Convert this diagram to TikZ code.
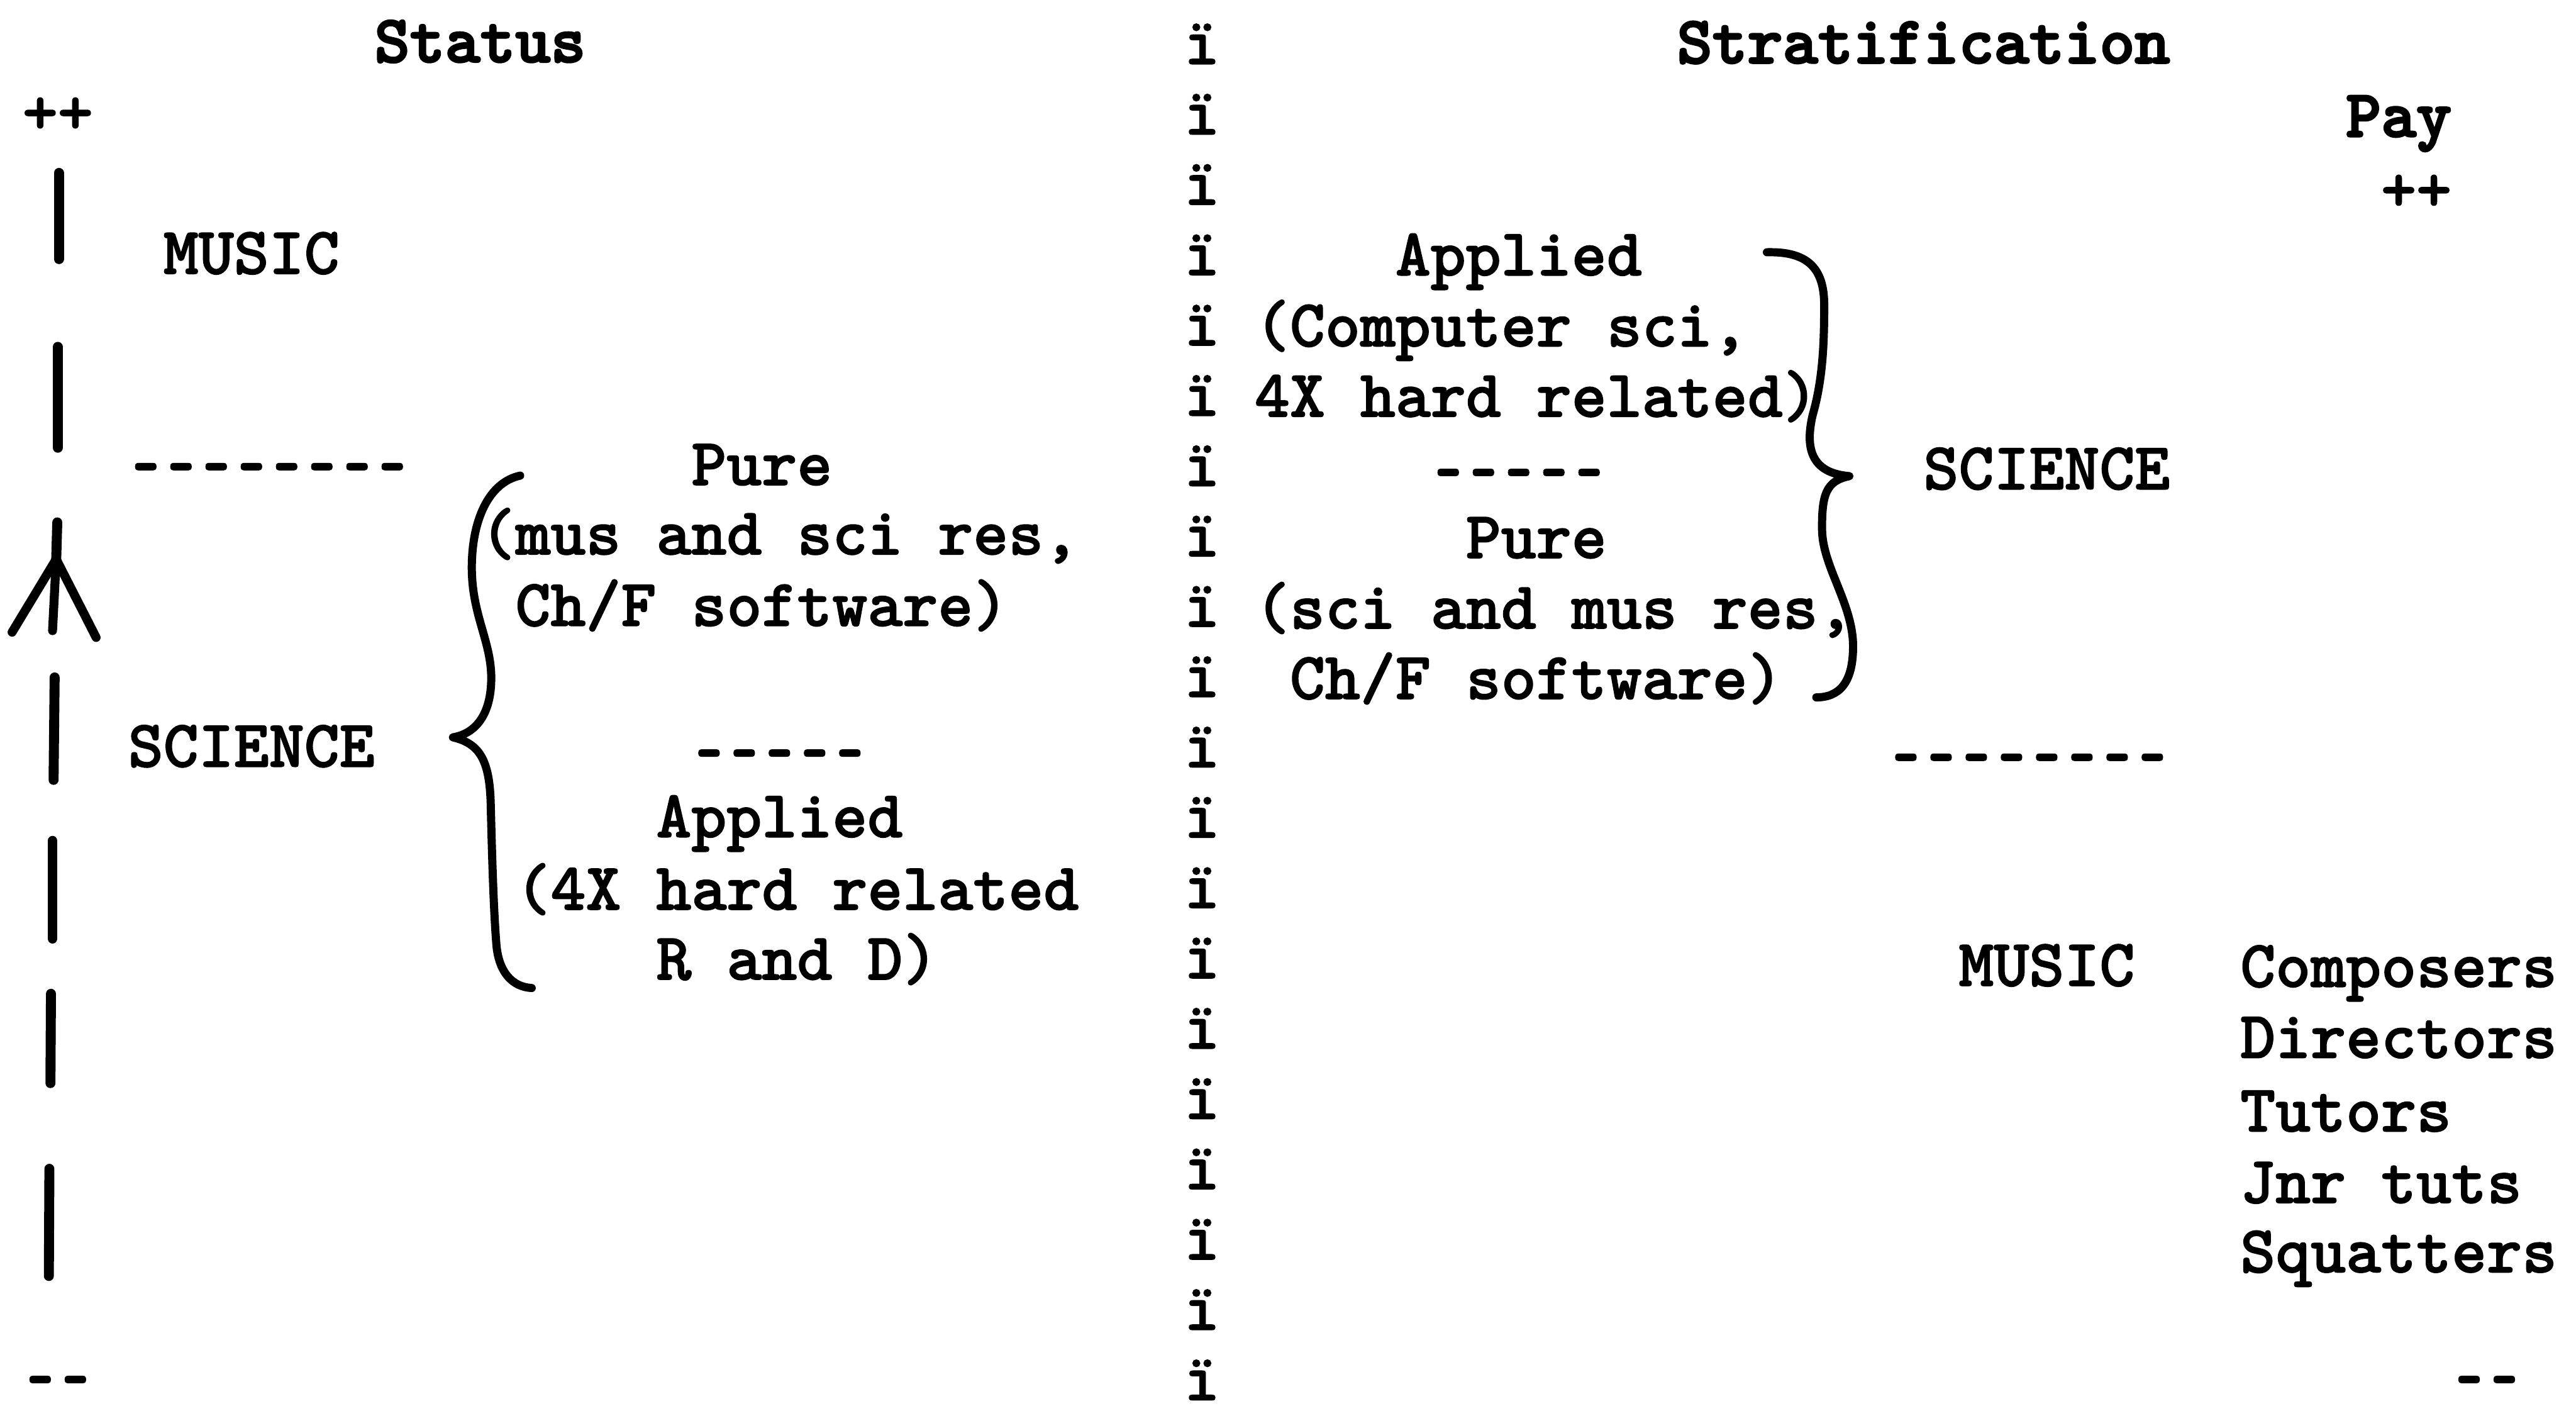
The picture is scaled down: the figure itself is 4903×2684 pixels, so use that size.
\documentclass[tikz,border=0pt]{standalone}
\usepackage{fontspec}
\usepackage{graphicx}
\newfontfamily\twfont{lmmonolt10-bold.otf}[Ligatures=TeXOff,FakeBold=1.4]
\newfontfamily\hdfont{lmmonolt10-bold.otf}[Ligatures=TeXOff,FakeBold=2.8]
\newcommand{\twsize}{\fontsize{36.3pt}{38pt}\selectfont}
\newcommand{\hy}{\makebox[0.525em][c]{\hdfont\scalebox{0.72}[1]{-}}}
\begin{document}
\begin{tikzpicture}[x=0.01cm,y=-0.01cm,
  tw/.style={anchor=base west,inner sep=0pt,outer sep=0pt,font={\twfont\twsize}},
  hd/.style={anchor=base west,inner sep=0pt,outer sep=0pt,font={\hdfont\twsize}},
  axisbar/.style={line width=0.19cm,line cap=round},
  barb/.style={line width=0.17cm,line cap=round,line join=round},
  bracestroke/.style={line width=0.155cm,line cap=round,line join=round}]
\fill[white] (0,0) rectangle (4903,2684);
\useasboundingbox (0,0) rectangle (4903,2684);
% central column of i-diaeresis
\foreach \k in {0,...,19}
  \node[tw] (i\k) at (2254,{122+133.8*\k}) {ï};
% ---------------- left side ----------------
\node[hd] (status) at ({2254+67*(-23)},118) {Status};
\node[tw] (lpp) at ({2254+67*(-33)},254) {++};
\node[tw] (lmusic) at ({2254+67*(-29)},521) {MUSIC};
\node[tw] (ldash1) at ({2254+67*(-30)},927) {\hy\hy\hy\hy\hy\hy\hy\hy};
\node[tw] (lpure) at ({2254+67*(-14)},923) {Pure};
\node[tw] (lpure1) at ({2254+67*(-20)},1055) {(mus and sci res,};
\node[tw] (lpure2) at ({2254+67*(-19)},1191) {Ch/F software)};
\node[tw] (lscience) at ({2254+67*(-30)},1459) {SCIENCE};
\node[tw] (ldash2) at ({2254+67*(-14)},1472) {\hy\hy\hy\hy\hy};
\node[tw] (lapp) at ({2254+67*(-15)},1593) {Applied};
\node[tw] (lapp1) at ({2254+67*(-19)},1731) {(4X hard related};
\node[tw] (lapp2) at ({2254+67*(-15)},1864) {R and D)};
\node[tw] (lmm) at ({2254+67*(-33)},2664) {\hy\hy};
% status axis
\coordinate (s1a) at (112,329); \coordinate (s1b) at (112,493);
\coordinate (s2a) at (110,660); \coordinate (s2b) at (110,852);
\coordinate (s3a) at (109,994); \coordinate (jn) at (107,1064);
\coordinate (stem) at (100,1200); \coordinate (bl) at (23,1203); \coordinate (br) at (183,1213);
\coordinate (s4a) at (104,1289); \coordinate (s4b) at (102,1484);
\coordinate (s5a) at (100,1600); \coordinate (s5b) at (100,1786);
\coordinate (s6a) at (97,1891); \coordinate (s6b) at (96,2061);
\coordinate (s7a) at (94,2224); \coordinate (s7b) at (93,2428);
\draw[axisbar] (s1a) -- (s1b);
\draw[axisbar] (s2a) -- (s2b);
\draw[axisbar] (s3a) -- (jn);
\draw[barb] (jn) -- (stem);
\draw[barb] (jn) -- (bl);
\draw[barb] (jn) -- (br);
\draw[axisbar] (s4a) -- (s4b);
\draw[axisbar] (s5a) -- (s5b);
\draw[axisbar] (s6a) -- (s6b);
\draw[axisbar] (s7a) -- (s7b);
% left brace
\coordinate (lbt) at (990,905); \coordinate (lbm) at (862,1403); \coordinate (lbb) at (1012,1880);
\draw[bracestroke] (lbt) .. controls (930,918) and (898,990) .. (898,1080)
  .. controls (898,1170) and (935,1220) .. (935,1290)
  .. controls (935,1360) and (905,1396) .. (lbm)
  .. controls (915,1415) and (932,1450) .. (934,1530)
  .. controls (937,1650) and (940,1740) .. (945,1800)
  .. controls (950,1850) and (975,1878) .. (lbb);
% ---------------- right side ----------------
\node[hd] (strat) at ({2254+67*14},120) {Stratification};
\node[hd] (pay) at ({2254+67*33},260) {Pay};
\node[tw] (rpp) at ({2254+67*34},401) {++};
\node[tw] (rapp) at ({2254+67*6},524) {Applied};
\node[tw] (rapp1) at ({2254+67*2},659) {(Computer sci,};
\node[tw] (rapp2) at ({2254+67*2},793) {4X hard related)};
\node[tw] (rdash1) at ({2254+67*7},938) {\hy\hy\hy\hy\hy};
\node[tw] (rpure) at ({2254+67*8},1062) {Pure};
\node[tw] (rpure1) at ({2254+67*2},1196) {(sci and mus res,};
\node[tw] (rpure2) at ({2254+67*3},1330) {Ch/F software)};
\node[tw] (rscience) at ({2254+67*21},931) {SCIENCE};
\node[tw] (rdash2) at ({2254+67*20},1480) {\hy\hy\hy\hy\hy\hy\hy\hy};
\node[tw] (rmusic) at ({2254+67*22},1876) {MUSIC};
\node[tw] (comp) at ({2254+67*30},1878) {Composers};
\node[tw] (dir) at ({2254+67*30},2013) {Directors};
\node[tw] (tut) at ({2254+67*30},2153) {Tutors};
\node[tw] (jnr) at ({2254+67*30},2289) {Jnr tuts};
\node[tw] (squ) at ({2254+67*30},2421) {Squatters};
\node[tw] (rmm) at ({2254+67*36},2664) {\hy\hy};
% right brace
\coordinate (rbt) at (3363,480); \coordinate (rbm) at (3520,906); \coordinate (rbb) at (3457,1327);
\draw[bracestroke] (rbt) .. controls (3440,478) and (3472,510) .. (3472,580)
  .. controls (3472,650) and (3470,720) .. (3450,790)
  .. controls (3436,850) and (3445,900) .. (rbm)
  .. controls (3476,915) and (3467,940) .. (3468,1010)
  .. controls (3470,1080) and (3527,1150) .. (3527,1230)
  .. controls (3527,1300) and (3500,1327) .. (rbb);
\end{tikzpicture}
\end{document}
